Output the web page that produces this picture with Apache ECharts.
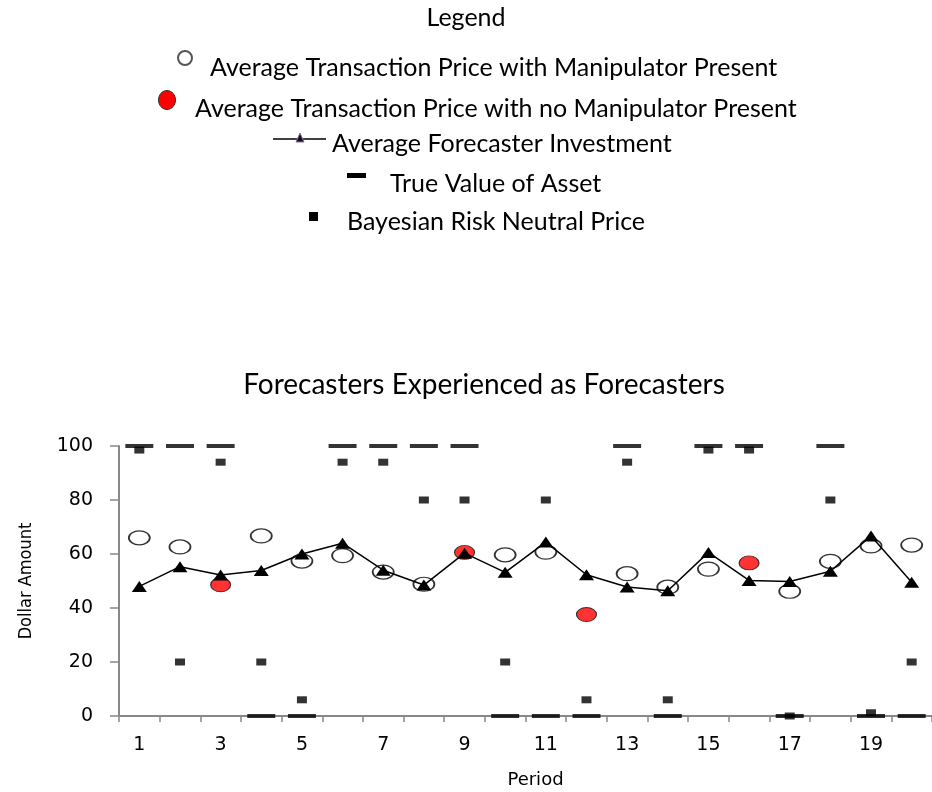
<!DOCTYPE html>
<html>
<head>
<meta charset="utf-8">
<script src="https://cdn.jsdelivr.net/npm/echarts@6/dist/echarts.min.js"></script>
<style>
html,body{margin:0;padding:0;background:#fff;}
#main{width:932px;height:792px;}
</style>
</head>
<body>
<div id="main"></div>
<script>
// ---- data ----
var periods = ['1','2','3','4','5','6','7','8','9','10','11','12','13','14','15','16','17','18','19','20'];
var priceWithManipulator = [66, 62.6, null, 66.7, 57.4, 59.4, 53.3, 48.8, null, 59.7, 60.7, null, 52.7, 47.7, 54.4, null, 46.2, 57.3, 63, 63.3];
var priceNoManipulator = [null, null, 48.6, null, null, null, null, null, 60.6, null, null, 37.6, null, null, null, 56.7, null, null, null, null];
var forecasterInvestment = [48, 55.3, 52.2, 53.9, 60, 64, 54, 48.5, 60.3, 53.2, 64.4, 52.3, 47.8, 46.4, 60.6, 50.2, 49.8, 53.6, 66.7, 49.5];
var trueValue = [100, 100, 100, 0, 0, 100, 100, 100, 100, 0, 0, 0, 100, 0, 100, 100, 0, 100, 0, 0];
var bayesianPrice = [98.5, 20, 94, 20, 6, 94, 94, 80, 80, 20, 80, 6, 94, 6, 98.5, 98.5, 0, 80, 1.2, 20];
var yTicks = [0, 20, 40, 60, 80, 100];

var seriesNames = [
  'Average Transaction Price with Manipulator Present',
  'Average Transaction Price with no Manipulator Present',
  'Average Forecaster Investment',
  'True Value of Asset',
  'Bayesian Risk Neutral Price'
];

var CAL = 'Lato, "Open Sans", sans-serif';
var VER = '"DejaVu Sans", Verdana, sans-serif';
var ELLIPSE = 'path://M0,10A10,10,0,1,1,20,10A10,10,0,1,1,0,10Z';

var chart = echarts.init(document.getElementById('main'));

var legendText = function (txt, x, y) {
  return { type: 'text', left: x, top: y - 16, style: { text: txt, font: '25px ' + CAL, fill: '#000' } };
};

var option = {
  backgroundColor: '#fff',
  animation: false,
  title: {
    text: 'Forecasters Experienced as Forecasters',
    left: 479, top: 366, textAlign: 'center',
    textStyle: { fontFamily: CAL, fontSize: 28, fontWeight: 'normal', color: '#000' }
  },
  grid: { left: 119, top: 446, width: 820, height: 270, containLabel: false },
  xAxis: {
    type: 'category',
    data: periods,
    boundaryGap: true,
    name: 'Period',
    nameLocation: 'middle',
    nameGap: 55,
    nameTextStyle: { fontFamily: VER, fontSize: 18, color: '#000', padding: [0, 0, 0, 20] },
    axisLine: { lineStyle: { color: '#888', width: 2 } },
    axisTick: { show: true, interval: 0, length: 6, inside: false, lineStyle: { color: '#888', width: 1.5 } },
    axisLabel: { interval: 1, margin: 20, fontFamily: VER, fontSize: 19, color: '#000' },
    splitLine: { show: false }
  },
  yAxis: {
    type: 'value',
    min: yTicks[0], max: yTicks[yTicks.length - 1], interval: 20,
    name: 'Dollar Amount',
    nameLocation: 'middle',
    nameGap: 84,
    nameRotate: 90,
    nameTextStyle: { fontFamily: '"Liberation Sans Narrow", "DejaVu Sans Condensed", Roboto, sans-serif', fontSize: 18, color: '#000' },
    axisLine: { show: true, lineStyle: { color: '#888', width: 2 } },
    axisTick: { show: true, length: 9, lineStyle: { color: '#888', width: 1.5 } },
    axisLabel: { margin: 26, fontFamily: VER, fontSize: 19, color: '#000' },
    splitLine: { show: false }
  },
  series: [
    {
      name: seriesNames[4], type: 'scatter', data: bayesianPrice, clip: false,
      symbol: 'rect', symbolSize: [10, 7],
      itemStyle: { color: '#000' }, z: 2
    },
    {
      name: seriesNames[3], type: 'scatter', data: trueValue, clip: false,
      symbol: 'rect', symbolSize: [28, 4],
      itemStyle: { color: '#000' }, z: 2
    },
    {
      name: seriesNames[0], type: 'scatter', data: priceWithManipulator, clip: false,
      symbol: ELLIPSE, symbolSize: [21, 14],
      itemStyle: { color: '#fff', borderColor: '#000', borderWidth: 1.5 }, z: 3
    },
    {
      name: seriesNames[1], type: 'scatter', data: priceNoManipulator, clip: false,
      symbol: ELLIPSE, symbolSize: [20, 14],
      itemStyle: { color: '#ff0000', borderColor: '#111', borderWidth: 1 }, z: 3
    },
    {
      name: seriesNames[2], type: 'line', data: forecasterInvestment, clip: false,
      symbol: 'triangle', symbolSize: [15, 11], showAllSymbol: true,
      lineStyle: { color: '#000', width: 1.5 },
      itemStyle: { color: '#000', borderColor: '#000', borderWidth: 0 }, z: 4
    }
  ],
  graphic: [
    { type: 'text', left: 'center', top: 5, style: { text: 'Legend', font: '25px ' + CAL, fill: '#000' } },
    { type: 'circle', shape: { cx: 185, cy: 58, r: 7 }, style: { fill: '#fff', stroke: '#555', lineWidth: 2 } },
    legendText(seriesNames[0], 210, 71),
    { type: 'ellipse', shape: { cx: 167, cy: 100, rx: 8.5, ry: 9.5 }, style: { fill: '#ff0000', stroke: '#333', lineWidth: 1 } },
    legendText(seriesNames[1], 195, 112),
    { type: 'line', shape: { x1: 273, y1: 139, x2: 326, y2: 139 }, style: { stroke: '#000', lineWidth: 1.5 } },
    { type: 'polygon', shape: { points: [[300, 133], [296, 142], [304, 142]] }, style: { fill: '#111', stroke: '#8a6fb0', lineWidth: 1 } },
    legendText(seriesNames[2], 332, 147),
    { type: 'rect', shape: { x: 347, y: 173, width: 19, height: 5 }, style: { fill: '#000' } },
    legendText(seriesNames[3], 390, 187),
    { type: 'rect', shape: { x: 309, y: 212, width: 9, height: 9 }, style: { fill: '#000' } },
    legendText(seriesNames[4], 347, 225)
  ]
};
chart.setOption(option);
</script>
</body>
</html>
